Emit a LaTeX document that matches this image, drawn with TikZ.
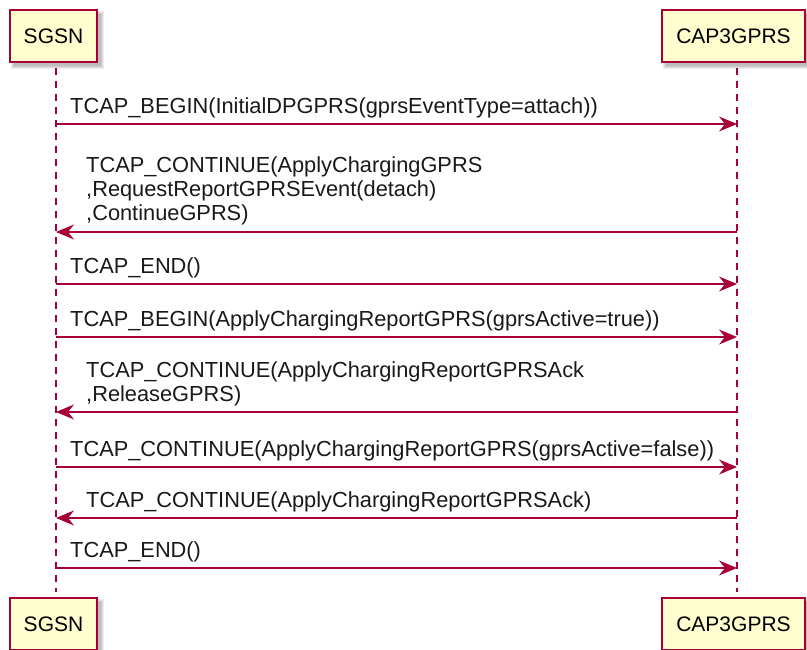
\documentclass[tikz,border=0pt]{standalone}
\usepackage{fontspec}
\setmainfont{Liberation Sans}
\usetikzlibrary{arrows.meta}
\definecolor{pcol}{HTML}{A80036}
\definecolor{pfill}{HTML}{FEFECE}
\begin{document}
\begin{tikzpicture}[x=1pt,y=-1pt,
  actor/.style={draw=pcol, fill=pfill, line width=1.5pt, inner sep=0pt,
    minimum height=52pt, font=\fontsize{21}{24}\selectfont},
  lifeline/.style={draw=pcol, dash pattern=on 7pt off 6pt, line width=1.3pt},
  msg/.style={draw=pcol, line width=1.3pt,
    -{Stealth[length=18pt,width=15pt,inset=6pt]}},
  lbl/.style={anchor=south west, inner sep=0pt, align=left,
    font=\fontsize{21.8}{24}\selectfont, text=black!90}
]
\useasboundingbox (0,0) rectangle (807,650);

% shadows
\foreach \cx/\cy/\w in {53.5/36/87, 733.5/36/143, 53.5/624/87, 733.5/624/143}{
  \foreach \e in {0,1,2,3}{
    \fill[black, opacity=0.07] (\cx-\w/2+4-\e, \cy-26+4-\e) rectangle (\cx+\w/2+4+\e, \cy+26+4+\e);
  }
}

% participants
\node[actor, minimum width=87pt]  (sgsnTop) at (53.5,36)  {SGSN};
\node[actor, minimum width=143pt] (capTop)  at (733.5,36) {CAP3GPRS};
\node[actor, minimum width=87pt]  (sgsnBot) at (53.5,624) {SGSN};
\node[actor, minimum width=143pt] (capBot)  at (733.5,624) {CAP3GPRS};

% lifelines
\coordinate (sL0) at (56,68);  \coordinate (sL1) at (56,592);
\coordinate (cL0) at (737,68); \coordinate (cL1) at (737,592);
\draw[lifeline] (sL0) -- (sL1);
\draw[lifeline] (cL0) -- (cL1);

% message end points
\foreach \i/\y in {1/124,2/232,3/284,4/337,5/412,6/467,7/518,8/568}{
  \coordinate (s\i) at (56,\y);
  \coordinate (c\i) at (737,\y);
}

\draw[msg] (s1) -- (c1);
\node[lbl] (t1) at ([shift={(14,-6)}]s1) {TCAP\_BEGIN(InitialDPGPRS(gprsEventType=attach))};

\draw[msg] (c2) -- (s2);
\node[lbl] (t2) at ([shift={(30,-7)}]s2) {TCAP\_CONTINUE(ApplyChargingGPRS\\,RequestReportGPRSEvent(detach)\\,ContinueGPRS)};

\draw[msg] (s3) -- (c3);
\node[lbl] (t3) at ([shift={(14,-6)}]s3) {TCAP\_END()};

\draw[msg] (s4) -- (c4);
\node[lbl] (t4) at ([shift={(14,-6)}]s4) {TCAP\_BEGIN(ApplyChargingReportGPRS(gprsActive=true))};

\draw[msg] (c5) -- (s5);
\node[lbl] (t5) at ([shift={(30,-6)}]s5) {TCAP\_CONTINUE(ApplyChargingReportGPRSAck\\,ReleaseGPRS)};

\draw[msg] (s6) -- (c6);
\node[lbl] (t6) at ([shift={(14,-6)}]s6) {TCAP\_CONTINUE(ApplyChargingReportGPRS(gprsActive=false))};

\draw[msg] (c7) -- (s7);
\node[lbl] (t7) at ([shift={(30,-6)}]s7) {TCAP\_CONTINUE(ApplyChargingReportGPRSAck)};

\draw[msg] (s8) -- (c8);
\node[lbl] (t8) at ([shift={(14,-6)}]s8) {TCAP\_END()};
\end{tikzpicture}
\end{document}
